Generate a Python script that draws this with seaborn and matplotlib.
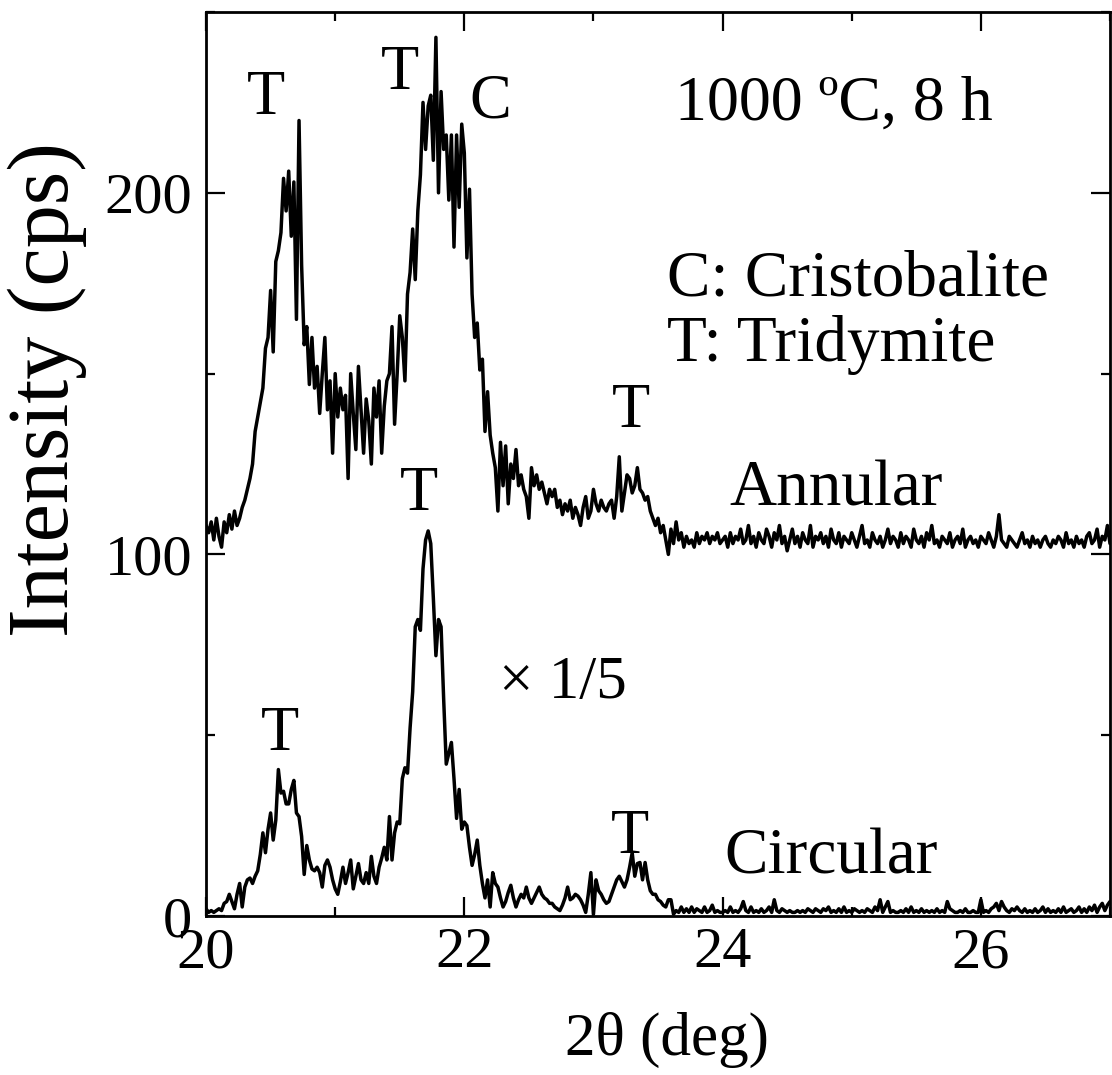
import numpy as np
import pandas as pd
import matplotlib
matplotlib.use("Agg")
import matplotlib.pyplot as plt
from matplotlib.ticker import MultipleLocator
import seaborn as sns

# Scan grid: 2theta from 20.00 to 27.00 deg in 0.02 deg steps
two_theta_start = 20.0
two_theta_step = 0.02

# Annular sample, counts per second (one row = 0.2 deg)
annular_cps = [
    108, 106, 109, 104, 110, 105, 102, 109, 106, 111,   # 20.00
    107, 112, 108, 110, 113, 115, 118, 121, 125, 134,   # 20.20
    138, 142, 146, 157, 160, 173, 156, 181, 184, 189,   # 20.40
    204, 195, 206, 188, 203, 165, 220, 180, 158, 163,   # 20.60
    147, 160, 146, 152, 139, 150, 160, 140, 148, 128,   # 20.80
    150, 138, 146, 140, 144, 121, 150, 139, 129, 152,   # 21.00
    140, 128, 143, 137, 125, 146, 138, 148, 128, 141,   # 21.20
    148, 150, 163, 136, 150, 166, 160, 148, 172, 178,   # 21.40
    190, 176, 195, 205, 225, 212, 224, 227, 209, 243,   # 21.60
    200, 228, 212, 216, 198, 216, 185, 216, 196, 219,   # 21.80
    211, 182, 201, 172, 160, 164, 151, 154, 134, 145,   # 22.00
    133, 128, 124, 112, 131, 119, 130, 114, 125, 121,   # 22.20
    129, 119, 122, 118, 116, 110, 124, 119, 122, 118,   # 22.40
    120, 117, 114, 118, 116, 118, 113, 115, 111, 114,   # 22.60
    112, 115, 110, 113, 111, 108, 113, 116, 110, 112,   # 22.80
    118, 114, 112, 115, 113, 112, 114, 115, 110, 116,   # 23.00
    127, 112, 117, 122, 121, 117, 119, 124, 118, 117,   # 23.20
    115, 116, 112, 110, 108, 110, 106, 108, 104, 100,   # 23.40
    107, 103, 109, 104, 106, 102, 105, 103, 104, 102,   # 23.60
    106, 103, 105, 104, 106, 103, 105, 104, 106, 103,   # 23.80
    104, 105, 102, 106, 103, 105, 104, 107, 103, 104,   # 24.00
    108, 103, 105, 102, 106, 104, 103, 107, 105, 102,   # 24.20
    106, 104, 108, 103, 105, 101, 104, 107, 103, 105,   # 24.40
    102, 106, 104, 103, 108, 102, 105, 104, 106, 103,   # 24.60
    105, 102, 107, 104, 103, 106, 102, 105, 104, 103,   # 24.80
    106, 104, 102, 105, 108, 103, 104, 102, 106, 104,   # 25.00
    103, 105, 102, 104, 107, 103, 105, 104, 102, 106,   # 25.20
    103, 105, 104, 102, 107, 104, 103, 105, 102, 106,   # 25.40
    104, 108, 103, 104, 102, 105, 104, 103, 106, 102,   # 25.60
    104, 105, 103, 107, 102, 104, 105, 103, 104, 102,   # 25.80
    105, 104, 103, 106, 104, 102, 105, 111, 104, 103,   # 26.00
    102, 105, 104, 103, 102, 104, 106, 103, 104, 102,   # 26.20
    105, 103, 104, 102, 104, 105, 103, 102, 104, 103,   # 26.40
    105, 104, 102, 106, 103, 104, 102, 105, 103, 104,   # 26.60
    102, 105, 106, 103, 104, 107, 102, 105, 104, 108,   # 26.80
    103,                                                # 27.00
]

# Circular sample, counts per second already scaled by 1/5
circular_cps = [
    2.0, 1.0, 1.5, 1.0, 1.5, 2.0, 1.5, 3.5, 4.0, 6.0,             # 20.00
    4.0, 2.0, 6.0, 9.0, 2.5, 8.0, 10.0, 10.5, 9.0, 11.0,          # 20.20
    12.5, 17.0, 23.0, 17.5, 24.0, 28.5, 21.0, 26.5, 40.5, 34.0,   # 20.40
    34.5, 31.0, 31.0, 35.0, 37.5, 28.5, 27.5, 22.0, 11.5, 19.5,   # 20.60
    15.5, 13.0, 12.5, 13.5, 12.0, 8.0, 14.0, 15.5, 13.5, 10.0,    # 20.80
    7.5, 6.0, 9.5, 13.5, 9.0, 12.0, 15.5, 7.5, 11.0, 14.5,        # 21.00
    10.0, 9.0, 12.0, 9.0, 16.5, 11.0, 9.0, 13.5, 16.0, 19.0,      # 21.20
    15.5, 27.5, 15.5, 23.0, 26.0, 25.5, 38.0, 41.0, 39.5, 52.0,   # 21.40
    62.0, 80.0, 82.0, 79.0, 96.0, 104.0, 106.5, 103.0, 88.0, 72.0,  # 21.60
    82.0, 80.0, 60.0, 42.0, 45.0, 48.0, 38.0, 27.0, 35.0, 24.0,   # 21.80
    26.0, 25.0, 19.0, 14.0, 17.0, 21.0, 14.0, 9.0, 5.0, 10.0,     # 22.00
    2.5, 12.0, 9.0, 8.0, 5.0, 2.5, 4.0, 6.5, 8.5, 5.0,            # 22.20
    2.5, 4.5, 6.0, 5.0, 8.0, 5.0, 3.5, 5.0, 6.5, 8.0,             # 22.40
    6.0, 5.0, 4.5, 3.5, 3.5, 2.5, 2.0, 1.5, 3.0, 5.0,             # 22.60
    8.0, 4.5, 5.0, 6.0, 5.5, 4.5, 3.0, 1.0, 6.0, 12.0,            # 22.80
    0.5, 10.0, 7.0, 6.0, 4.5, 3.5, 4.0, 6.0, 8.0, 10.0,           # 23.00
    11.0, 9.5, 8.0, 10.0, 13.5, 17.5, 11.0, 14.5, 14.8, 10.0,     # 23.20
    14.8, 10.0, 7.0, 6.0, 6.0, 4.5, 4.0, 3.0, 2.5, 4.5,           # 23.40
    4.5, 0.5, 1.5, 1.0, 2.5, 1.0, 2.0, 1.0, 2.5, 1.0,             # 23.60
    2.0, 1.5, 1.0, 2.5, 1.0, 1.5, 3.0, 1.0, 1.5, 1.0,             # 23.80
    1.0, 1.5, 1.0, 2.5, 1.0, 1.5, 1.0, 2.0, 4.0, 1.5,             # 24.00
    1.0, 2.5, 1.0, 1.5, 1.0, 2.0, 1.0, 1.5, 2.5, 1.0,             # 24.20
    4.5, 1.5, 1.0, 2.0, 1.5, 1.0, 1.5, 1.0, 1.0, 1.5,             # 24.40
    1.0, 1.5, 1.0, 2.0, 1.5, 1.0, 2.0, 1.5, 1.0, 2.0,             # 24.60
    1.5, 2.5, 1.0, 1.5, 1.0, 2.0, 1.0, 2.5, 1.0, 1.5,             # 24.80
    1.0, 2.0, 1.5, 1.0, 1.5, 1.0, 2.0, 1.5, 1.0, 2.5,             # 25.00
    1.5, 4.5, 1.0, 2.5, 4.0, 1.0, 1.5, 1.0, 1.0, 1.5,             # 25.20
    1.0, 2.0, 1.0, 2.5, 1.0, 1.5, 1.0, 2.0, 1.0, 1.5,             # 25.40
    1.0, 1.5, 1.0, 2.0, 1.0, 1.5, 1.0, 4.0, 2.0, 1.5,             # 25.60
    1.0, 1.0, 1.5, 1.0, 2.0, 1.0, 1.0, 1.5, 1.0, 1.0,             # 25.80
    4.5, 1.0, 1.5, 1.0, 2.0, 2.5, 3.5, 1.5, 4.0, 2.5,             # 26.00
    1.5, 1.0, 2.0, 1.5, 2.5, 1.5, 1.0, 2.0, 1.0, 1.5,             # 26.20
    1.0, 2.0, 1.0, 1.5, 2.5, 1.0, 2.0, 1.0, 1.5, 1.0,             # 26.40
    2.0, 1.0, 2.5, 1.0, 1.5, 2.0, 1.0, 1.5, 2.5, 1.0,             # 26.60
    2.0, 1.0, 2.5, 1.5, 3.0, 1.0, 2.5, 3.5, 1.5, 3.0,             # 26.80
    4.0,                                                          # 27.00
]

x_major_ticks = [20, 22, 24, 26]
y_major_ticks = [0, 100, 200]


def scan(values):
    n = len(values)
    return pd.DataFrame({
        "two_theta": np.round(two_theta_start + two_theta_step * np.arange(n), 2),
        "cps": values,
    })


annular = scan(annular_cps)
circular = scan(circular_cps)

sns.set_theme(style="ticks")
plt.rcParams["font.family"] = ["Liberation Serif", "DejaVu Serif"]
plt.rcParams["text.color"] = "black"
plt.rcParams["axes.labelcolor"] = "black"
plt.rcParams["axes.linewidth"] = 2.0

fig = plt.figure(figsize=(11.12, 10.75), dpi=100)
ax = fig.add_axes([0.1853, 0.1479, 0.8129, 0.8409])

for df in (annular, circular):
    sns.lineplot(data=df, x="two_theta", y="cps", ax=ax, color="black",
                 linewidth=2.5, estimator=None, sort=False)

ax.set_xlim(20, 27)
ax.set_ylim(0, 250)
ax.set_xticks(x_major_ticks)
ax.set_yticks(y_major_ticks)
ax.xaxis.set_minor_locator(MultipleLocator(1))
ax.yaxis.set_minor_locator(MultipleLocator(50))
ax.tick_params(which="both", direction="in", top=True, right=True,
               width=1.6, colors="black", labelcolor="black", labelsize=42)
ax.tick_params(which="major", length=13.5)
ax.tick_params(which="minor", length=6.5)
ax.tick_params(axis="x", pad=8)
ax.tick_params(axis="y", pad=10)
for s in ax.spines.values():
    s.set_color("black")
    s.set_linewidth(2.0)

ax.set_xlabel("2θ (deg)", fontsize=44, color="black")
ax.set_ylabel("Intensity (cps)", fontsize=62, color="black")
ax.xaxis.label.set(va="center", ha="center")
ax.yaxis.label.set(va="center", ha="center", rotation_mode="default")
ax.xaxis.set_label_coords(0.51, -0.137)
ax.yaxis.set_label_coords(-0.176, 0.582)

mark = dict(color="black", fontsize=45, ha="center", va="center")
note = dict(color="black", fontsize=47, ha="left", va="center")
# peak markers
ax.text(20.46, 226, "T", **mark)
ax.text(21.50, 233, "T", **mark)
ax.text(22.20, 225, "C", **mark)
ax.text(23.29, 139.5, "T", **mark)
ax.text(21.65, 116.5, "T", **mark)
ax.text(20.57, 50, "T", **mark)
ax.text(23.28, 21.5, "T", **mark)
# descriptions
ax.text(23.63, 224.5, "1000 ºC, 8 h", color="black", fontsize=46,
        ha="left", va="center")
ax.text(23.57, 176, "C: Cristobalite", **note)
ax.text(23.57, 158, "T: Tridymite", **note)
ax.text(24.05, 118, "Annular", **note)
ax.text(24.01, 16, "Circular", **note)
ax.text(22.27, 64.5, "× 1/5", color="black", fontsize=44, ha="left", va="center")

fig.savefig("out.png", dpi=100)
